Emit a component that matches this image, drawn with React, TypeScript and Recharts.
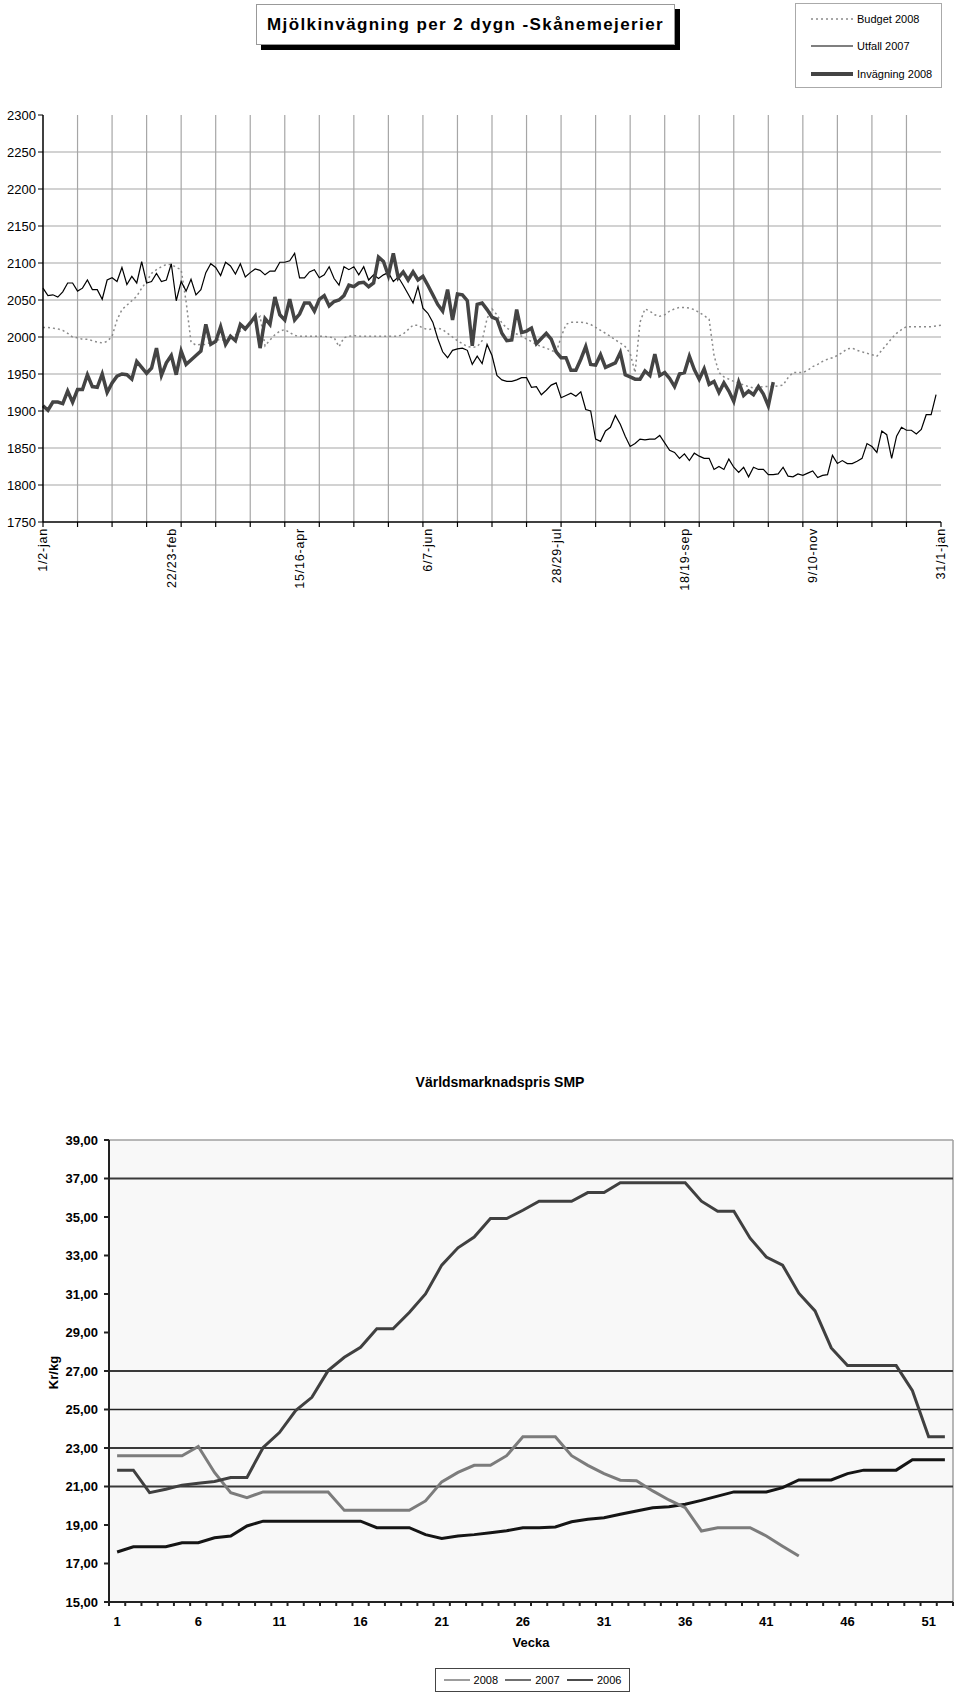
import { LineChart, Line, XAxis, YAxis, ReferenceLine, ReferenceArea } from 'recharts'

// --- Mjölkinvägning per 2 dygn (one point per 2-day period) ---
const periodLabels = ['1/2-jan', '22/23-feb', '15/16-apr', '6/7-jun', '28/29-jul', '18/19-sep', '9/10-nov', '31/1-jan']

const budget2008 = [
  2013, 2013, 2012, 2011, 2009, 2005, 2000, 1999, 1997, 1997,
  1995, 1993, 1992, 1994, 2001, 2023, 2037, 2043, 2049, 2055,
  2066, 2075, 2086, 2091, 2095, 2098, 2098, 2094, 2091, 2048,
  1993, 1989, 1990, 1990, 1993, 1995, 1997, 1995, 1997, 2003,
  2008, 2010, 2019, 2023, 2028, 1988, 1996, 2003, 2008, 2010,
  2006, 2002, 2001, 2001, 2001, 2001, 2001, 2001, 2000, 1999,
  1987, 1999, 2001, 2002, 2001, 2001, 2001, 2001, 2001, 2001,
  2001, 2001, 2001, 2004, 2010, 2016, 2016, 2012, 2010, 2011,
  2012, 2010, 2005, 2000, 1995, 1991, 1987, 1986, 1987, 1995,
  2025, 2038, 2030, 2019, 2012, 2008, 2004, 2001, 1997, 1994,
  1990, 1987, 1985, 1982, 1979, 2000, 2017, 2020, 2020, 2020,
  2019, 2017, 2013, 2009, 2005, 2001, 1996, 1992, 1987, 1978,
  1952, 2020, 2038, 2035, 2030, 2028, 2030, 2035, 2038, 2040,
  2040, 2039, 2037, 2033, 2029, 2024, 1975, 1952, 1946, 1943,
  1940, 1938, 1935, 1933, 1931, 1932, 1933, 1933, 1933, 1934,
  1935, 1945, 1952, 1952, 1952, 1955, 1960, 1963, 1967, 1970,
  1972, 1975, 1979, 1984, 1985, 1982, 1980, 1978, 1976, 1974,
  1982, 1990, 1998, 2005, 2010, 2014, 2014, 2014, 2014, 2014,
  2014, 2015, 2016,
]

const utfall2007 = [
  2066, 2056, 2057, 2054, 2061, 2073, 2073, 2062, 2066, 2077,
  2064, 2064, 2051, 2077, 2080, 2075, 2094, 2071, 2082, 2073,
  2102, 2073, 2075, 2086, 2075, 2077, 2099, 2049, 2075, 2062,
  2078, 2057, 2064, 2087, 2099, 2094, 2083, 2101, 2096, 2085,
  2099, 2081, 2087, 2092, 2090, 2084, 2089, 2089, 2101, 2101,
  2103, 2113, 2080, 2080, 2088, 2091, 2080, 2084, 2095, 2079,
  2070, 2095, 2091, 2095, 2084, 2095, 2077, 2084, 2079, 2084,
  2087, 2075, 2081, 2070, 2058, 2046, 2068, 2039, 2032, 2020,
  1998, 1980, 1972, 1982, 1984, 1985, 1982, 1963, 1974, 1964,
  1990, 1975, 1948, 1942, 1940, 1940, 1942, 1945, 1945, 1932,
  1933, 1922, 1928, 1935, 1938, 1918, 1921, 1924, 1920, 1926,
  1902, 1900, 1862, 1859, 1873, 1878, 1894, 1882, 1866, 1852,
  1856, 1862, 1861, 1862, 1862, 1867, 1857, 1847, 1844, 1836,
  1842, 1833, 1843, 1839, 1836, 1836, 1821, 1825, 1821, 1835,
  1824, 1817, 1824, 1811, 1824, 1821, 1821, 1814, 1814, 1815,
  1824, 1812, 1811, 1815, 1813, 1816, 1819, 1810, 1813, 1814,
  1840, 1829, 1833, 1829, 1829, 1832, 1836, 1856, 1852, 1844,
  1873, 1868, 1836, 1866, 1878, 1874, 1874, 1869, 1875, 1895,
  1895, 1922,
]

const invagning2008 = [
  1907, 1901, 1912, 1912, 1910, 1927, 1912, 1929, 1929, 1949,
  1933, 1932, 1950, 1925, 1938, 1947, 1950, 1949, 1943, 1967,
  1959, 1951, 1958, 1985, 1948, 1965, 1975, 1949, 1981, 1963,
  1969, 1975, 1981, 2017, 1990, 1994, 2014, 1990, 2001, 1995,
  2017, 2011, 2019, 2028, 1985, 2025, 2017, 2054, 2030, 2023,
  2051, 2023, 2031, 2046, 2046, 2035, 2051, 2056, 2042, 2048,
  2050, 2056, 2070, 2068, 2073, 2074, 2068, 2073, 2108, 2102,
  2083, 2113, 2080, 2088, 2077, 2088, 2077, 2082, 2070, 2057,
  2044, 2035, 2064, 2023, 2058, 2057, 2049, 1988, 2044, 2046,
  2037, 2027, 2024, 2005, 1995, 1996, 2037, 2006, 2008, 2012,
  1991, 1998, 2005, 1997, 1980, 1972, 1972, 1955, 1955, 1970,
  1987, 1963, 1962, 1976, 1959, 1962, 1965, 1979, 1949, 1946,
  1943, 1943, 1954, 1948, 1977, 1948, 1952, 1944, 1933, 1950,
  1952, 1974, 1956, 1943, 1957, 1936, 1940, 1925, 1938, 1927,
  1913, 1939, 1921, 1927, 1922, 1933, 1923, 1907, 1939,
]

const topYTicks = [1750, 1800, 1850, 1900, 1950, 2000, 2050, 2100, 2150, 2200, 2250, 2300]
const periodCount = budget2008.length
const tickEvery = 7
const labelEvery = 26

const topRows = budget2008.map((b, i) => ({
  i,
  budget: b,
  utfall: utfall2007[i],
  invagning: invagning2008[i],
}))
const gridTicks = Array.from({ length: Math.floor((periodCount - 1) / tickEvery) + 1 }, (_, k) => k * tickEvery)
const labelTicks = periodLabels.map((_, k) => k * labelEvery)

// --- Världsmarknadspris SMP, Kr/kg per vecka ---
const weeks = Array.from({ length: 52 }, (_, k) => k + 1)
const weekLabels = [1, 6, 11, 16, 21, 26, 31, 36, 41, 46, 51]
const priceTicks = [15, 17, 19, 21, 23, 25, 27, 29, 31, 33, 35, 37, 39]
const markedLevels = [37, 27, 25, 23, 21]

const price2008 = [
  22.6, 22.6, 22.6, 22.6, 22.6, 23.08, 21.73, 20.68, 20.42, 20.72,
  20.72, 20.72, 20.72, 20.72, 19.76, 19.76, 19.76, 19.76, 19.76, 20.25,
  21.24, 21.73, 22.1, 22.1, 22.6, 23.58, 23.58, 23.58, 22.6, 22.1,
  21.67, 21.33, 21.3, 20.77, 20.3, 19.9, 18.69, 18.86, 18.86, 18.86,
  18.43, 17.9, 17.39,
]
const price2007 = [
  21.85, 21.85, 20.68, 20.86, 21.07, 21.17, 21.26, 21.47, 21.47, 23.03,
  23.8, 24.94, 25.63, 27.02, 27.71, 28.23, 29.19, 29.19, 30.04, 31.0,
  32.5, 33.4, 33.96, 34.92, 34.92, 35.35, 35.82, 35.82, 35.82, 36.27,
  36.27, 36.78, 36.78, 36.78, 36.78, 36.78, 35.82, 35.3, 35.3, 33.9,
  32.92, 32.5, 31.04, 30.12, 28.2, 27.28, 27.28, 27.28, 27.28, 25.98,
  23.58, 23.58,
]
const price2006 = [
  17.6, 17.87, 17.87, 17.87, 18.08, 18.08, 18.34, 18.43, 18.95, 19.2,
  19.2, 19.2, 19.2, 19.2, 19.2, 19.2, 18.86, 18.86, 18.86, 18.5,
  18.3, 18.43, 18.5, 18.6, 18.7, 18.86, 18.86, 18.9, 19.17, 19.3,
  19.38, 19.56, 19.73, 19.9, 19.95, 20.08, 20.28, 20.5, 20.72, 20.72,
  20.72, 20.94, 21.34, 21.34, 21.34, 21.67, 21.85, 21.85, 21.85, 22.39,
  22.39, 22.39,
]

const weekRows = weeks.map((w, k) => ({
  w,
  p2008: price2008[k],
  p2007: price2007[k],
  p2006: price2006[k],
}))
const weekEdges = [0, ...weeks].map((w) => w + 0.5)

const sans = '"Liberation Sans", Arial, Helvetica, sans-serif'

function PeriodTick(props: any) {
  const { x, y, payload } = props
  const idx = labelTicks.indexOf(payload.value)
  return (
    <g transform={`translate(${x},${y})`}>
      <text transform="rotate(-90)" textAnchor="end" dy="0.35em" fontSize={12.5} letterSpacing={0.8} fill="#000" fontFamily={sans}>
        {periodLabels[idx]}
      </text>
    </g>
  )
}

function LegendSample({ color, width, dash }: { color: string; width: number; dash?: string }) {
  return (
    <svg width={42} height={8} style={{ display: 'block' }}>
      <line x1={0} y1={4} x2={42} y2={4} stroke={color} strokeWidth={width} strokeDasharray={dash} />
    </svg>
  )
}

export default function App() {
  return (
    <div style={{ position: 'relative', width: 960, height: 1696, fontFamily: sans, background: '#fff' }}>
      <style>{'body{margin:0}'}</style>

      {/* top chart title */}
      <div
        style={{
          position: 'absolute', left: 256, top: 4, width: 417, height: 39,
          border: '1px solid #999', boxShadow: '5px 5px 0 #000', background: '#fff',
          display: 'flex', alignItems: 'center', justifyContent: 'center',
          fontSize: 17, fontWeight: 'bold', letterSpacing: 1.4, whiteSpace: 'nowrap',
        }}
      >
        Mjölkinvägning per 2 dygn -Skånemejerier
      </div>

      {/* top chart legend */}
      <div style={{ position: 'absolute', left: 795, top: 3, width: 145, height: 83, border: '1px solid #aaa', background: '#fff', fontSize: 11 }}>
        {[
          { name: 'Budget 2008', color: '#8a8a8a', width: 1.5, dash: '2 3', top: 9 },
          { name: 'Utfall 2007', color: '#000', width: 1.2, top: 36 },
          { name: 'Invägning 2008', color: '#444', width: 4, top: 64 },
        ].map((it) => (
          <div key={it.name} style={{ position: 'absolute', left: 15, top: it.top, display: 'flex', alignItems: 'center', gap: 4 }}>
            <LegendSample color={it.color} width={it.width} dash={it.dash} />
            <span>{it.name}</span>
          </div>
        ))}
      </div>

      <div style={{ position: 'absolute', left: 0, top: 0 }}>
        <LineChart width={960} height={600} data={topRows} margin={{ top: 115, right: 19, bottom: 22, left: 0 }}>
          <XAxis
            xAxisId="grid" dataKey="i" type="number" domain={[0, periodCount - 1]} ticks={gridTicks}
            tickFormatter={() => ''} tickSize={5} height={6} interval={0}
            axisLine={{ stroke: '#000', strokeWidth: 1.5 }} tickLine={{ stroke: '#000', strokeWidth: 1.2 }}
          />
          <XAxis
            xAxisId="lbl" dataKey="i" type="number" domain={[0, periodCount - 1]} ticks={labelTicks} interval={0}
            tick={<PeriodTick />} tickLine={false} axisLine={false} tickSize={0} tickMargin={0} height={50}
          />
          <YAxis
            type="number" domain={[1750, 2300]} ticks={topYTicks} width={43} tickSize={5} tickMargin={2} interval={0}
            tick={{ fill: '#000', fontSize: 13, fontFamily: sans }}
            axisLine={{ stroke: '#000', strokeWidth: 1.5 }} tickLine={{ stroke: '#000' }}
          />
          {topYTicks.slice(1, -1).map((v) => (
            <ReferenceLine key={'h' + v} xAxisId="grid" y={v} stroke="#a6a6a6" strokeWidth={1.2} />
          ))}
          {gridTicks.slice(1).filter((v) => v < periodCount - 1).map((v) => (
            <ReferenceLine key={'v' + v} xAxisId="grid" x={v} stroke="#a6a6a6" strokeWidth={1.2} />
          ))}
          <Line xAxisId="grid" dataKey="budget" stroke="#8a8a8a" strokeWidth={1.5} strokeDasharray="2 3" dot={false} isAnimationActive={false} />
          <Line xAxisId="grid" dataKey="utfall" stroke="#000" strokeWidth={1.2} dot={false} isAnimationActive={false} />
          <Line xAxisId="grid" dataKey="invagning" stroke="#444" strokeWidth={3.5} dot={false} isAnimationActive={false} />
        </LineChart>
      </div>

      {/* bottom chart */}
      <div style={{ position: 'absolute', left: 0, top: 1074, width: 960, textAlign: 'center', paddingLeft: 40, boxSizing: 'border-box', fontSize: 14, fontWeight: 'bold' }}>
        Världsmarknadspris SMP
      </div>
      <div style={{ position: 'absolute', left: 33, top: 1365, width: 40, textAlign: 'center', transform: 'rotate(-90deg)', fontSize: 13, fontWeight: 'bold' }}>
        Kr/kg
      </div>
      <div style={{ position: 'absolute', left: 481, top: 1635, width: 100, textAlign: 'center', fontSize: 13, fontWeight: 'bold' }}>
        Vecka
      </div>

      <div style={{ position: 'absolute', left: 0, top: 1100 }}>
        <LineChart width={960} height={560} data={weekRows} margin={{ top: 40, right: 7, bottom: 23, left: 0 }}>
          <XAxis
            xAxisId="wk" dataKey="w" type="number" domain={[0.5, 52.5]} ticks={weekEdges} interval={0}
            tickFormatter={() => ''} tickSize={4} height={5}
            axisLine={{ stroke: '#222', strokeWidth: 2 }} tickLine={{ stroke: '#222', strokeWidth: 2 }}
          />
          <XAxis
            xAxisId="wl" dataKey="w" type="number" domain={[0.5, 52.5]} ticks={weekLabels} interval={0}
            tickLine={false} axisLine={false} tickSize={0} tickMargin={10} height={30}
            tick={{ fill: '#000', fontSize: 13, fontWeight: 'bold', fontFamily: sans }}
          />
          <YAxis
            type="number" domain={[15, 39]} ticks={priceTicks} width={109} tickSize={5} tickMargin={6} interval={0}
            tickFormatter={(v: number) => v.toFixed(2).replace('.', ',')}
            tick={{ fill: '#000', fontSize: 13, fontWeight: 'bold', fontFamily: sans }}
            axisLine={{ stroke: '#222', strokeWidth: 2 }} tickLine={{ stroke: '#222', strokeWidth: 2 }}
          />
          <ReferenceArea xAxisId="wk" x1={0.5} x2={52.5} y1={15} y2={39} fill="#f8f8f8" fillOpacity={1} stroke="none" />
          <ReferenceLine xAxisId="wk" y={39} stroke="#a0a0a0" strokeWidth={1.5} />
          <ReferenceLine xAxisId="wk" x={52.5} stroke="#a0a0a0" strokeWidth={1.5} />
          {markedLevels.map((v) => (
            <ReferenceLine key={'m' + v} xAxisId="wk" y={v} stroke={v === 25 ? '#222' : '#3a3a3a'} strokeWidth={v === 25 ? 1.3 : 2} />
          ))}
          <Line xAxisId="wk" dataKey="p2006" stroke="#151515" strokeWidth={3} dot={false} isAnimationActive={false} />
          <Line xAxisId="wk" dataKey="p2008" stroke="#7c7c7c" strokeWidth={3} dot={false} isAnimationActive={false} />
          <Line xAxisId="wk" dataKey="p2007" stroke="#404040" strokeWidth={3} dot={false} isAnimationActive={false} />
        </LineChart>
      </div>

      {/* bottom chart legend */}
      <div
        style={{
          position: 'absolute', left: 435, top: 1668, width: 195, height: 24,
          border: '1px solid #444', background: '#fff', boxSizing: 'border-box',
          display: 'flex', alignItems: 'center', justifyContent: 'space-around', fontSize: 11, padding: '0 4px',
        }}
      >
        {[
          { name: '2008', color: '#7c7c7c' },
          { name: '2007', color: '#404040' },
          { name: '2006', color: '#111' },
        ].map((it) => (
          <div key={it.name} style={{ display: 'flex', alignItems: 'center', gap: 4 }}>
            <svg width={26} height={6}><line x1={0} y1={3} x2={26} y2={3} stroke={it.color} strokeWidth={1.5} /></svg>
            <span>{it.name}</span>
          </div>
        ))}
      </div>
    </div>
  )
}
